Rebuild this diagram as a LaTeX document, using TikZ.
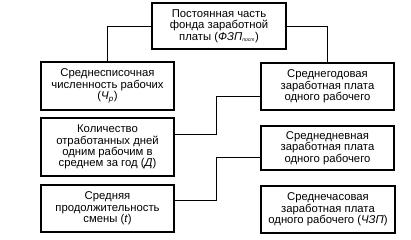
\documentclass[tikz,border=0pt]{standalone}
\usepackage{fontspec}
\setmainfont{Liberation Sans}
\begin{document}
\begin{tikzpicture}[x=1pt,y=-1pt,
  box/.style={draw, line width=1.1pt, align=center, inner sep=0pt,
    font=\fontsize{11.3}{11.4}\selectfont},
  link/.style={draw, line width=0.9pt}]
\useasboundingbox (0,0) rectangle (411,239);
\node[box, minimum width=134pt, minimum height=46pt] (top) at (219,26)
  {Постоянная часть\\фонда заработной\\платы (\textit{ФЗП}\textsubscript{\textit{\tiny пост}})};
\node[box, minimum width=133pt, minimum height=48pt] (L1) at (107.5,86)
  {Среднесписочная\\численность рабочих\\(\textit{Ч}\textsubscript{\textit{р}})};
\node[box, minimum width=133pt, minimum height=47pt] (R1) at (327.5,86.5)
  {Среднегодовая\\заработная плата\\одного рабочего};
\node[box, minimum width=133pt, minimum height=58pt] (L2) at (107.5,147)
  {Количество\\отработанных дней\\одним рабочим в\\среднем за год (\textit{Д})};
\node[box, minimum width=133pt, minimum height=44pt] (R2) at (327.5,148)
  {Среднедневная\\заработная плата\\одного рабочего};
\node[box, minimum width=133pt, minimum height=47pt] (L3) at (107.5,208.5)
  {Средняя\\продолжительность\\смены (\textit{t})};
\node[box, minimum width=134pt, minimum height=47pt] (R3) at (328,209.5)
  {Среднечасовая\\заработная плата\\одного рабочего (\textit{ЧЗП})};
\draw[link] (top.west) -| (L1.north);
\draw[link] (top.east) -| (R1.north);
\draw[link] ([yshift=-9.5pt]R1.west) -- ++(-44,0) |- ([yshift=13pt]L2.east);
\draw[link] ([yshift=-9pt]R2.west) -- ++(-44,0) |- ([yshift=8.5pt]L3.east);
\end{tikzpicture}
\end{document}
